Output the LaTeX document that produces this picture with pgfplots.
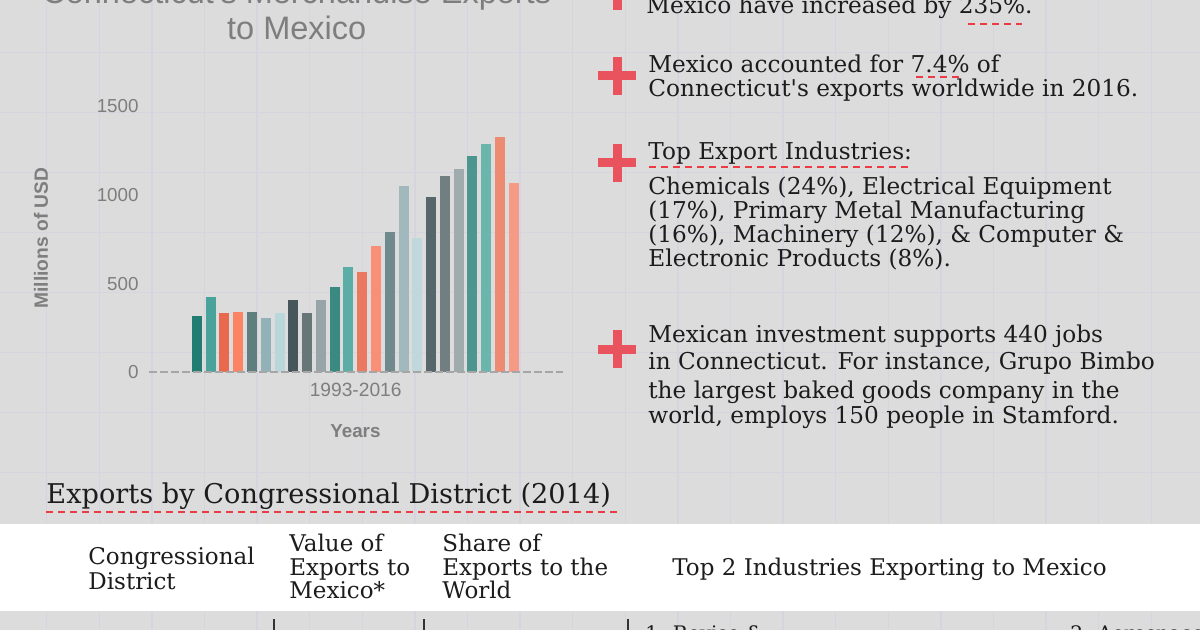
\documentclass[border=0pt]{standalone}
\usepackage{pgfplots}
\pgfplotsset{compat=1.18}
\usepackage{fontspec}
\setmainfont{Liberation Sans}
\newfontfamily\slab{DejaVu Serif}
\definecolor{bgc}{HTML}{DCDCDC}
\definecolor{gridc}{HTML}{D6D4DE}
\definecolor{axgray}{HTML}{7E7E7E}
\definecolor{txt}{HTML}{1C1C1C}
\definecolor{plusred}{HTML}{E9535D}
\definecolor{dashred}{HTML}{EE3A44}
\definecolor{c01}{HTML}{217C72}
\definecolor{c02}{HTML}{4AA39A}
\definecolor{c03}{HTML}{E8694D}
\definecolor{c04}{HTML}{FC8465}
\definecolor{c05}{HTML}{5E7E80}
\definecolor{c06}{HTML}{93B2B7}
\definecolor{c07}{HTML}{B9D6DB}
\definecolor{c08}{HTML}{46565A}
\definecolor{c09}{HTML}{677677}
\definecolor{c10}{HTML}{97A4A8}
\definecolor{c11}{HTML}{3B8A82}
\definecolor{c12}{HTML}{5BADA6}
\definecolor{c13}{HTML}{EB7860}
\definecolor{c14}{HTML}{F98F76}
\definecolor{c15}{HTML}{6F898C}
\definecolor{c16}{HTML}{A1B8BC}
\definecolor{c17}{HTML}{C0D8DC}
\definecolor{c18}{HTML}{57666A}
\definecolor{c19}{HTML}{717F82}
\definecolor{c20}{HTML}{A0ABAD}
\definecolor{c21}{HTML}{4D968F}
\definecolor{c22}{HTML}{6CB5AD}
\definecolor{c23}{HTML}{EC8A72}
\definecolor{c24}{HTML}{F59A84}
\begin{document}
\begin{tikzpicture}[x=0.5pt,y=-0.5pt,
  rt/.style={anchor=base west, inner sep=0pt, text=txt, font=\slab\fontsize{11.6}{13}\selectfont},
  hd/.style={anchor=base west, inner sep=0pt, text=txt, font=\slab\fontsize{11.5}{13}\selectfont},
  ul/.style={draw=dashred, line width=1pt, dash pattern=on 3.5pt off 2.5pt},
  pl/.style={draw=plusred, line width=4.5pt}]
\useasboundingbox (0,0) rectangle (1200,630);
\begin{scope}
\clip (0,0) rectangle (1200,630);
\fill[bgc] (0,0) rectangle (1200,630);
\foreach \i in {0,...,23} \draw[gridc, line width=0.7pt] ({-5.9+52.6*\i},0) -- ++(0,630);
\foreach \i in {0,...,11} \draw[gridc, line width=0.7pt] (0,{-7.7+60*\i}) -- ++(1200,0);
\fill[white] (0,524) rectangle (1200,611);
% bottom row separators
\foreach \x in {274,424,628} \draw[black!80, line width=0.7pt] (\x,619) -- (\x,640);
\node[anchor=base west, inner sep=0pt, text=txt, font=\slab\fontsize{10}{12}\selectfont] at (645,640) {1. Revise \&};
\node[anchor=base west, inner sep=0pt, text=txt, font=\slab\fontsize{10}{12}\selectfont] at (1070,640) {2. Aerospace};
% title
\node[anchor=base, inner sep=0pt, text=axgray, font=\fontsize{16.25}{18}\selectfont] at (296.7,4) {Connecticut's Merchandise Exports};
\node[anchor=base, inner sep=0pt, text=axgray, font=\fontsize{16.25}{18}\selectfont] at (296.7,40) {to Mexico};
% plus signs
\foreach \cy in {-9,76,163,349.5} {
  \draw[pl] (598,\cy) -- (636,\cy);
  \draw[pl] (617,\cy-19) -- (617,\cy+19);
}
% right text
\node[rt] at (646,13.3) {Mexico have increased by 235\%.};
\draw[ul] (968,24) -- (1022,24);
\node[rt] at (648,72.7) {Mexico accounted for 7.4\% of};
\draw[ul] (916,77) -- (964,77);
\node[rt] at (648,96.7) {Connecticut's exports worldwide in 2016.};
\node[rt] at (648,160) {Top Export Industries:};
\draw[ul] (649,166.7) -- (912,166.7);
\node[rt] at (648,194.3) {Chemicals (24\%), Electrical Equipment};
\node[rt] at (648,218.3) {(17\%), Primary Metal Manufacturing};
\node[rt] at (648,242.3) {(16\%), Machinery (12\%), \& Computer \&};
\node[rt] at (648,266.7) {Electronic Products (8\%).};
\node[rt] at (648,342.7) {Mexican investment supports 440 jobs};
\node[rt] at (648,370) {in Connecticut. For instance, Grupo Bimbo};
\node[rt] at (648,398.3) {the largest baked goods company in the};
\node[rt] at (648,423.3) {world, employs 150 people in Stamford.};
% section heading
\node[anchor=base west, inner sep=0pt, text=txt, font=\slab\fontsize{13.6}{15}\selectfont] at (46,503.3) {Exports by Congressional District (2014)};
\draw[ul] (46,512.5) -- (618,512.5);
% table header
\node[hd] at (88,565) {Congressional};
\node[hd] at (88,589.3) {District};
\node[hd] at (289,551.7) {Value of};
\node[hd] at (289,575.7) {Exports to};
\node[hd] at (289,598.3) {Mexico*};
\node[hd] at (442,551.7) {Share of};
\node[hd] at (442,575.7) {Exports to the};
\node[hd] at (442,598.3) {World};
\node[hd] at (672,575.7) {Top 2 Industries Exporting to Mexico};
% axis labels
\node[rotate=90, inner sep=0pt, text=axgray, font=\bfseries\fontsize{9.6}{11}\selectfont] at (41,238) {Millions of USD};
\node[anchor=base, inner sep=0pt, text=axgray, font=\fontsize{9.6}{11}\selectfont] at (355.7,397) {1993-2016};
\node[anchor=base, inner sep=0pt, text=axgray, font=\bfseries\fontsize{9.4}{11}\selectfont] at (355.4,437.3) {Years};
\end{scope}
\begin{axis}[at={(74.5pt,-186.15pt)}, anchor=south west, scale only axis,
  width=207pt, height=133.15pt, xmin=-3.47, xmax=26.57, ymin=0, ymax=1500,
  axis line style={draw=none}, xtick=\empty, ytick={0,500,1000,1500},
  major tick length=0pt, clip=false,
  /pgf/number format/assume math mode=true, /pgf/number format/1000 sep={},
  yticklabel style={anchor=east, inner sep=0pt, xshift=-5pt, text=axgray, font=\fontsize{9.4}{11}\selectfont},
  bb/.style={ybar, bar width=5pt, bar shift=0pt, fill=#1, draw=none}]
\addplot[bb=c01] coordinates {(0,319)};
\addplot[bb=c02] coordinates {(1,425)};
\addplot[bb=c03] coordinates {(2,334)};
\addplot[bb=c04] coordinates {(3,340)};
\addplot[bb=c05] coordinates {(4,338)};
\addplot[bb=c06] coordinates {(5,304)};
\addplot[bb=c07] coordinates {(6,336)};
\addplot[bb=c08] coordinates {(7,408)};
\addplot[bb=c09] coordinates {(8,333)};
\addplot[bb=c10] coordinates {(9,406)};
\addplot[bb=c11] coordinates {(10,481)};
\addplot[bb=c12] coordinates {(11,592)};
\addplot[bb=c13] coordinates {(12,564)};
\addplot[bb=c14] coordinates {(13,711)};
\addplot[bb=c15] coordinates {(14,790)};
\addplot[bb=c16] coordinates {(15,1051)};
\addplot[bb=c17] coordinates {(16,759)};
\addplot[bb=c18] coordinates {(17,987)};
\addplot[bb=c19] coordinates {(18,1105)};
\addplot[bb=c20] coordinates {(19,1147)};
\addplot[bb=c21] coordinates {(20,1218)};
\addplot[bb=c22] coordinates {(21,1286)};
\addplot[bb=c23] coordinates {(22,1325)};
\addplot[bb=c24] coordinates {(23,1066)};
\draw[gray!70, line width=1pt, dash pattern=on 3.8pt off 1.7pt] (axis cs:-3.47,0) -- (axis cs:26.57,0);
\end{axis}
\end{tikzpicture}
\end{document}
